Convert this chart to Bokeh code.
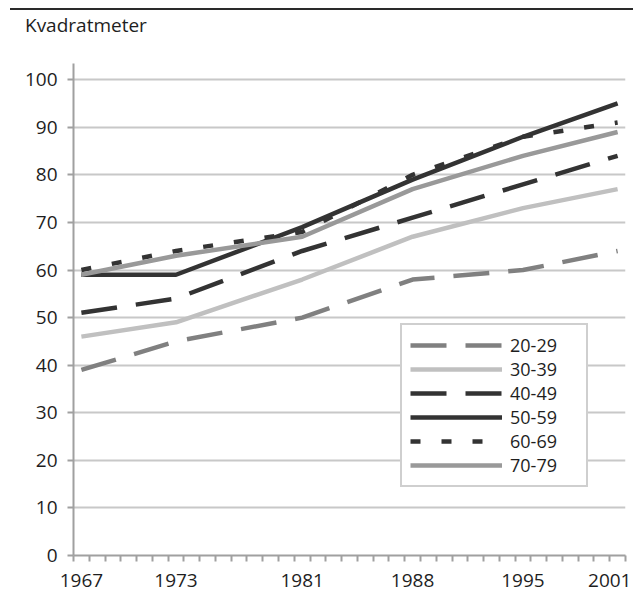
import numpy as np
from bokeh.plotting import figure
from bokeh.models import Range1d, FixedTicker, Legend, LegendItem, Div
from bokeh.layouts import column
from bokeh.embed import file_html
from bokeh.resources import INLINE

# ---- data ----
years = [1967, 1973, 1981, 1988, 1995, 2001]
tick_labels = ["1967", "1973", "1981", "1988", "1995", "2001"]
y_ticks = [0, 10, 20, 30, 40, 50, 60, 70, 80, 90, 100]
series_names = ["20-29", "30-39", "40-49", "50-59", "60-69", "70-79"]
s20_29 = [39, 45, 50, 58, 60, 64]
s30_39 = [46, 49, 58, 67, 73, 77]
s40_49 = [51, 54, 64, 71, 78, 84]
s50_59 = [59, 59, 69, 79, 88, 95]
s60_69 = [60, 64, 68, 80, 88, 91]
s70_79 = [59, 63, 67, 77, 84, 89]
y_title = "Kvadratmeter"

FONT = "Open Sans"
TXT = "#1e1e1e"

header = Div(
    text=y_title,
    width=623, height=47, margin=0,
    styles={
        "border-top": "2px solid #2a2a2a",
        "padding-left": "15px",
        "padding-top": "2px",
        "margin-left": "2px",
        "font-family": FONT,
        "font-size": "19px",
        "color": TXT,
        "box-sizing": "border-box",
        "overflow": "hidden",
    },
)

p = figure(
    width=623, height=544,
    x_range=Range1d(1966.5, 2001.5),
    y_range=Range1d(0, 103.4),
    output_backend="svg", toolbar_location=None,
    min_border_left=65, min_border_right=6,
    min_border_top=8, min_border_bottom=44,
    margin=0,
)
p.outline_line_color = None
p.xgrid.grid_line_color = None
p.ygrid.grid_line_color = "#c8c8c8"
p.ygrid.grid_line_width = 2

# x axis
p.xaxis.ticker = FixedTicker(ticks=years,
                             minor_ticks=list(np.arange(1966.5, 2002.0, 1.0)))
p.xaxis.major_label_overrides = {y: l for y, l in zip(years, tick_labels)}
p.xaxis.major_tick_out = 0
p.xaxis.major_tick_in = 0
p.xaxis.minor_tick_out = 6
p.xaxis.minor_tick_in = 0
p.xaxis.minor_tick_line_color = "#a0a0a0"
p.xaxis.minor_tick_line_width = 2
p.xaxis.major_label_standoff = 12

# y axis
p.yaxis.ticker = FixedTicker(ticks=y_ticks, minor_ticks=[])
p.yaxis.major_tick_out = 6
p.yaxis.major_tick_in = 0
p.yaxis.major_tick_line_color = "#a0a0a0"
p.yaxis.major_tick_line_width = 2
p.yaxis.major_label_standoff = 10

for ax in (p.xaxis, p.yaxis):
    ax.axis_line_color = "#a0a0a0"
    ax.axis_line_width = 2
    ax.major_label_text_font = FONT
    ax.major_label_text_font_size = "19px"
    ax.major_label_text_color = TXT

styles = [
    dict(line_color="#808080", line_dash="36 19"),
    dict(line_color="#c0c0c0", line_dash="solid"),
    dict(line_color="#333333", line_dash="36 19"),
    dict(line_color="#333333", line_dash="solid"),
    dict(line_color="#333333", line_dash="10 21"),
    dict(line_color="#999999", line_dash="solid"),
]
data = [s20_29, s30_39, s40_49, s50_59, s60_69, s70_79]

items = []
for name, vals, st in zip(series_names, data, styles):
    r = p.line(years, vals, line_width=4.5, line_join="round", **st)
    items.append(LegendItem(label=name, renderers=[r]))

legend = Legend(
    items=items,
    location=(327, 68),
    orientation="vertical",
    glyph_width=92, glyph_height=20,
    label_height=20, label_width=68,
    label_standoff=8, spacing=0, padding=8, margin=0,
    label_text_font=FONT, label_text_font_size="18px",
    label_text_color=TXT,
    border_line_color="#a0a0a0", border_line_width=2,
    background_fill_color="white", background_fill_alpha=1,
)
p.add_layout(legend, "center")

layout = column(header, p, spacing=0, margin=(8, 0, 0, 8))
open("out.html", "w").write(file_html(layout, INLINE))
